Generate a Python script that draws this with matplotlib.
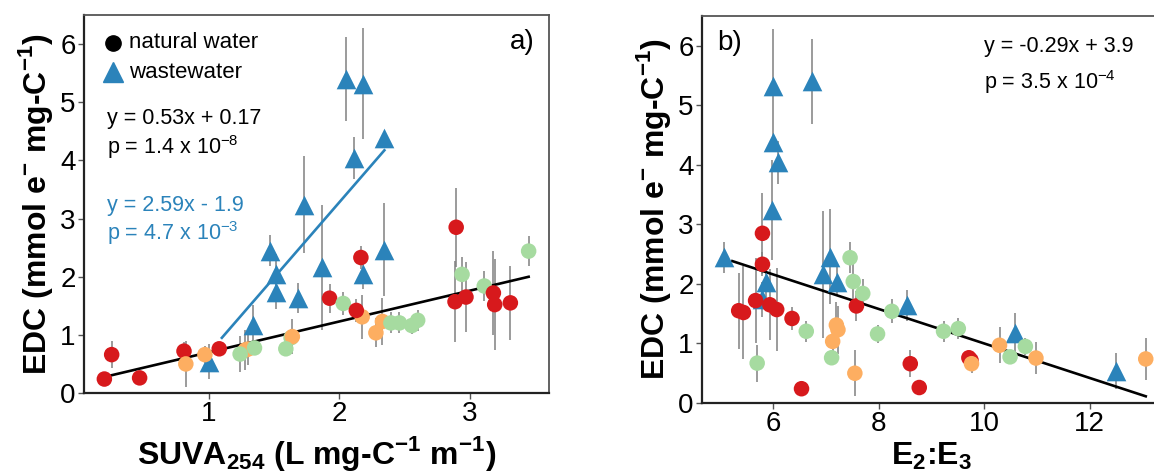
import matplotlib
matplotlib.use("Agg")
import matplotlib.pyplot as plt
import numpy as np

plt.rcParams['font.family'] = ['Liberation Sans', 'DejaVu Sans']
plt.rcParams['mathtext.fontset'] = 'custom'
plt.rcParams['mathtext.rm'] = 'Liberation Sans'
plt.rcParams['mathtext.bf'] = 'Liberation Sans:bold'

# natural water samples (colour = site group), order = draw order
nat_suva = [0.20, 0.47, 0.256, 0.81, 1.08, 1.925,
            1.63, 0.97, 1.28, 1.30, 1.64, 2.175, 2.28, 2.33, 0.824,
            1.24, 1.35, 1.59, 2.03, 2.395, 2.46, 2.555, 2.60, 2.94, 3.11, 3.45,
            2.13, 2.165, 2.895, 2.886, 2.97, 3.18, 3.19, 3.31]
nat_e2e3 = [6.54, 8.77, 8.60, 9.75, 9.71, 7.58,
            10.78, 9.76, 13.06, 10.98, 10.29, 7.20, 7.13, 7.23, 7.55,
            5.70, 10.49, 7.11, 8.25, 6.63, 9.23, 7.98, 9.51, 7.52, 7.70, 7.46,
            6.36, 5.80, 5.80, 6.07, 5.94, 5.67, 5.44, 5.35]
nat_edc = [0.24, 0.26, 0.66, 0.72, 0.76, 1.63,
           0.95, 0.66, 0.74, 0.755, 0.97, 1.31, 1.035, 1.23, 0.50,
           0.67, 0.775, 0.76, 1.54, 1.205, 1.205, 1.16, 1.25, 2.04, 1.84, 2.44,
           1.42, 2.33, 2.85, 1.57, 1.65, 1.72, 1.52, 1.55]
nat_err = [0.05, 0.05, 0.23, 0.15, 0.08, 0.25,
           0.15, 0.15, 0.35, 0.27, 0.30, 0.38, 0.25, 0.40, 0.39,
           0.31, 0.12, 0.12, 0.20, 0.18, 0.18, 0.15, 0.18, 0.30, 0.25, 0.26,
           0.20, 0.20, 0.68, 0.70, 0.60, 0.72, 0.78, 0.64]
nat_group = ['r', 'r', 'r', 'r', 'r', 'r',
             'g', 'o', 'o', 'o', 'o', 'o', 'o', 'o', 'o',
             'g', 'g', 'g', 'g', 'g', 'g', 'g', 'g', 'g', 'g', 'g',
             'r', 'r', 'r', 'r', 'r', 'r', 'r', 'r']

# wastewater samples
ww_suva = [1.0, 1.335, 1.467, 1.515, 1.515, 1.687, 1.727, 1.868,
           2.05, 2.11, 2.18, 2.18, 2.345, 2.345]
ww_e2e3 = [12.49, 10.58, 5.08, 5.86, 5.79, 8.54, 5.98, 6.94,
           6.73, 6.10, 6.00, 7.22, 6.00, 7.08]
ww_edc = [0.54, 1.17, 2.45, 2.04, 1.74, 1.64, 3.24, 2.16,
          5.40, 4.04, 5.32, 2.04, 4.39, 2.46]
ww_err = [0.30, 0.35, 0.26, 0.35, 0.30, 0.26, 0.84, 1.07,
          0.72, 0.36, 0.96, 0.25, 0.10, 0.80]

# fits from the figure
fit_all_a = [0.53, 0.17]
fit_ww_a = [2.59, -1.9]
fit_all_b = [-0.29, 3.9]

colors = {'r': '#d7191c', 'o': '#fdae61', 'g': '#a6dba0'}
blue = '#2b83ba'
nat_col = [colors[c] for c in nat_group]

fig = plt.figure(figsize=(11.54, 4.74), dpi=100)
ax1 = fig.add_axes([84/1154, 81/474, 465/1154, 378/474])
ax2 = fig.add_axes([702/1154, 71/474, 458/1154, 387/474])

ylab = r'EDC (mmol e$^{\mathbf{-}}$ mg-C$^{\mathbf{-1}}$)'


def draw(ax, xn, xw):
    ax.errorbar(xn, nat_edc, yerr=nat_err, fmt='none', ecolor='#808080', elinewidth=1.1, zorder=1)
    ax.errorbar(xw, ww_edc, yerr=ww_err, fmt='none', ecolor='#808080', elinewidth=1.1, zorder=1)
    ax.scatter(xw, ww_edc, marker='^', s=200, color=blue, linewidths=0, zorder=3)
    ax.scatter(xn, nat_edc, marker='o', s=125, c=nat_col, linewidths=0, zorder=4)
    ax.set_ylim(0, 6.5)
    ax.set_yticks([0, 1, 2, 3, 4, 5, 6])
    ax.tick_params(labelsize=20, length=4, width=1, color='#555555', pad=2)
    ax.set_ylabel(ylab, fontsize=23, fontweight='bold', labelpad=4)
    for s in ['left', 'bottom']:
        ax.spines[s].set_color('#222222')
        ax.spines[s].set_linewidth(1.6)
    for s in ['top', 'right']:
        ax.spines[s].set_color('#555555')
        ax.spines[s].set_linewidth(1.3)


# panel a
draw(ax1, nat_suva, ww_suva)
xs = np.array([0.25, 3.45])
ax1.plot(xs, fit_all_a[0]*xs + fit_all_a[1], color='black', lw=1.9, zorder=2)
xs = np.array([1.1, 2.345])
ax1.plot(xs, fit_ww_a[0]*xs + fit_ww_a[1], color=blue, lw=1.9, zorder=2)
ax1.set_xlim(0.044, 3.606)
ax1.set_xticks([1, 2, 3])
ax1.set_xlabel(r'SUVA$_{\mathbf{254}}$ (L mg-C$^{\mathbf{-1}}$ m$^{\mathbf{-1}}$)',
               fontsize=23, fontweight='bold', labelpad=5)

ax1.plot(0.062, 0.926, 'o', color='black', ms=11, transform=ax1.transAxes, clip_on=False)
ax1.text(0.097, 0.926, 'natural water', fontsize=16, va='center', transform=ax1.transAxes)
ax1.plot(0.062, 0.849, '^', color=blue, ms=14, transform=ax1.transAxes, clip_on=False)
ax1.text(0.097, 0.849, 'wastewater', fontsize=16, va='center', transform=ax1.transAxes)
ax1.text(0.049, 0.7275, 'y = 0.53x + 0.17', fontsize=15.5, va='center', transform=ax1.transAxes)
ax1.text(0.049, 0.651, r'p = 1.4 x 10$^{-8}$', fontsize=15.5, va='center', transform=ax1.transAxes)
ax1.text(0.049, 0.497, 'y = 2.59x - 1.9', fontsize=15.5, va='center', color=blue, transform=ax1.transAxes)
ax1.text(0.049, 0.423, r'p = 4.7 x 10$^{-3}$', fontsize=15.5, va='center', color=blue, transform=ax1.transAxes)
ax1.text(0.970, 0.929, 'a)', fontsize=20, ha='right', va='center', transform=ax1.transAxes)

# panel b
draw(ax2, nat_e2e3, ww_e2e3)
xs = np.array([5.23, 13.06])
ax2.plot(xs, fit_all_b[0]*xs + fit_all_b[1], color='black', lw=1.9, zorder=2)
ax2.set_xlim(4.655, 13.33)
ax2.set_xticks([6, 8, 10, 12])
ax2.set_xlabel(r'E$_{\mathbf{2}}$:E$_{\mathbf{3}}$', fontsize=23, fontweight='bold', labelpad=2)
ax2.text(0.033, 0.930, 'b)', fontsize=20, ha='left', va='center', transform=ax2.transAxes)
ax2.text(0.616, 0.922, 'y = -0.29x + 3.9', fontsize=15.5, va='center', transform=ax2.transAxes)
ax2.text(0.616, 0.829, r'p = 3.5 x 10$^{-4}$', fontsize=15.5, va='center', transform=ax2.transAxes)

fig.savefig('out.png', dpi=100)
